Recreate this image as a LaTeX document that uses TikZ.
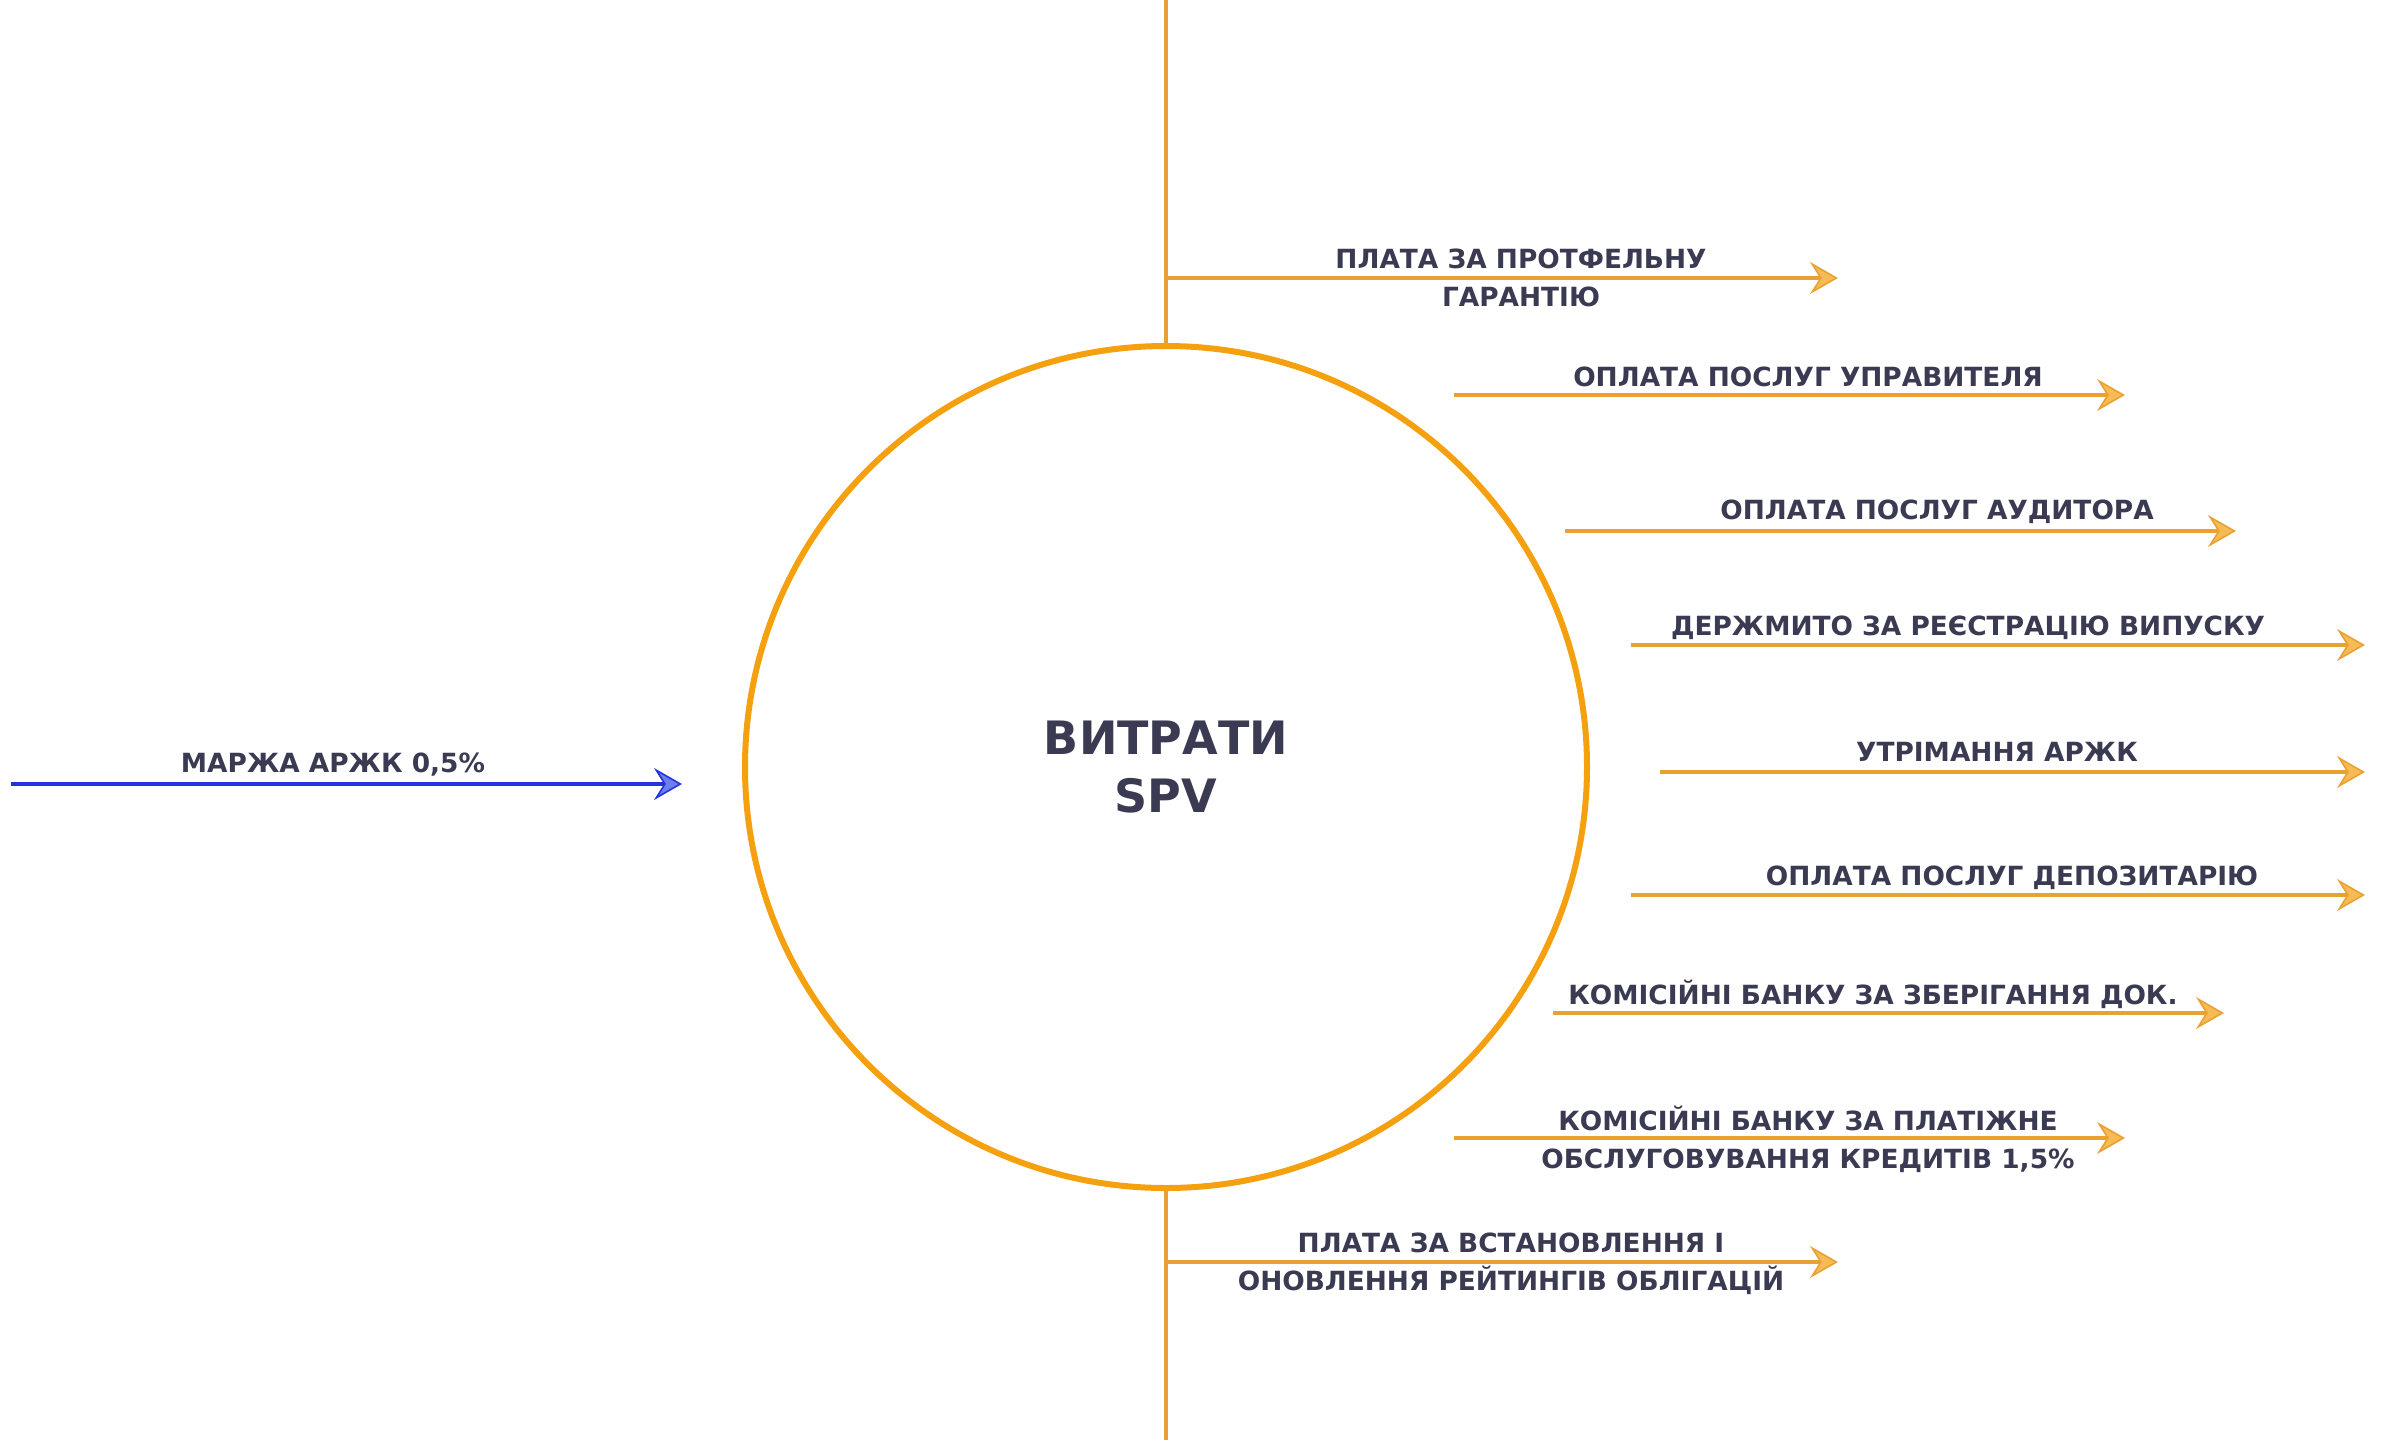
\documentclass[tikz,border=0pt]{standalone}
\usepackage{fontspec}
\setmainfont{DejaVu Sans}
\usetikzlibrary{arrows.meta}
\definecolor{spvorange}{HTML}{F5A00F}
\definecolor{linkorange}{HTML}{E9A232}
\definecolor{tipfill}{HTML}{F6BB55}
\definecolor{margeblue}{HTML}{2433E0}
\definecolor{tipblue}{HTML}{6F7EEE}
\definecolor{txtdark}{HTML}{3A3A52}
\tikzset{
  lbl/.style={anchor=base, align=center, text=txtdark, inner sep=0pt,
    font=\bfseries\fontsize{13.2}{19}\selectfont},
  outarrow/.style={draw=linkorange, line width=1.6pt,
    -{Stealth[length=14pt, width=16pt, inset=5pt, fill=tipfill, line width=0.8pt]}},
  inarrow/.style={draw=margeblue, line width=1.6pt,
    -{Stealth[length=14pt, width=16pt, inset=5pt, fill=tipblue, line width=0.8pt]}},
}
\begin{document}
\begin{tikzpicture}[x=0.5pt, y=-0.5pt]
\useasboundingbox (0,0) rectangle (2392,1440);
% Cercle
\node[circle, draw=spvorange, line width=3pt, minimum size=842*0.5pt, inner sep=0pt] (spv) at (1166,767) {};
\node[lbl, font=\bfseries\fontsize{23}{29}\selectfont] (spvtxt) at (1166,812) {ВИТРАТИ\\SPV};
% Axe vertical
\coordinate (top) at (1166,0);
\coordinate (bot) at (1166,1440);
\draw[linkorange, line width=1.6pt] (top) -- (spv.north);
\draw[linkorange, line width=1.6pt] (spv.south) -- (bot);
% Entrée
\coordinate (m1) at (11,784);
\coordinate (m2) at (682,784);
\draw[inarrow] (m1) -- (m2);
\node[lbl] (marzha) at (333,772) {МАРЖА АРЖК 0,5\%};
% Sorties
\coordinate (a1) at (1166,278);
\coordinate (a2) at (1838,278);
\draw[outarrow] (a1) -- (a2);
\node[lbl] (garant) at (1521,306) {ПЛАТА ЗА ПРОТФЕЛЬНУ\\ГАРАНТІЮ};

\coordinate (b1) at (1454,395);
\coordinate (b2) at (2125,395);
\draw[outarrow] (b1) -- (b2);
\node[lbl] (upravl) at (1808,386) {ОПЛАТА ПОСЛУГ УПРАВИТЕЛЯ};

\coordinate (c1) at (1565,531);
\coordinate (c2) at (2236,531);
\draw[outarrow] (c1) -- (c2);
\node[lbl] (audyt) at (1937,519) {ОПЛАТА ПОСЛУГ АУДИТОРА};

\coordinate (d1) at (1631,645);
\coordinate (d2) at (2365,645);
\draw[outarrow] (d1) -- (d2);
\node[lbl] (derzh) at (1968,635) {ДЕРЖМИТО ЗА РЕЄСТРАЦІЮ ВИПУСКУ};

\coordinate (e1) at (1660,772);
\coordinate (e2) at (2365,772);
\draw[outarrow] (e1) -- (e2);
\node[lbl] (utrym) at (1997,761) {УТРІМАННЯ АРЖК};

\coordinate (f1) at (1631,895);
\coordinate (f2) at (2365,895);
\draw[outarrow] (f1) -- (f2);
\node[lbl] (depoz) at (2012,885) {ОПЛАТА ПОСЛУГ ДЕПОЗИТАРІЮ};

\coordinate (g1) at (1553,1013);
\coordinate (g2) at (2224,1013);
\draw[outarrow] (g1) -- (g2);
\node[lbl] (zberig) at (1873,1004) {КОМІСІЙНІ БАНКУ ЗА ЗБЕРІГАННЯ ДОК.};

\coordinate (h1) at (1454,1138);
\coordinate (h2) at (2125,1138);
\draw[outarrow] (h1) -- (h2);
\node[lbl] (platizh) at (1808,1168) {КОМІСІЙНІ БАНКУ ЗА ПЛАТІЖНЕ\\ОБСЛУГОВУВАННЯ КРЕДИТІВ 1,5\%};

\coordinate (k1) at (1166,1262);
\coordinate (k2) at (1838,1262);
\draw[outarrow] (k1) -- (k2);
\node[lbl] (reit) at (1511,1290) {ПЛАТА ЗА ВСТАНОВЛЕННЯ І\\ОНОВЛЕННЯ РЕЙТИНГІВ ОБЛІГАЦІЙ};
\end{tikzpicture}
\end{document}
